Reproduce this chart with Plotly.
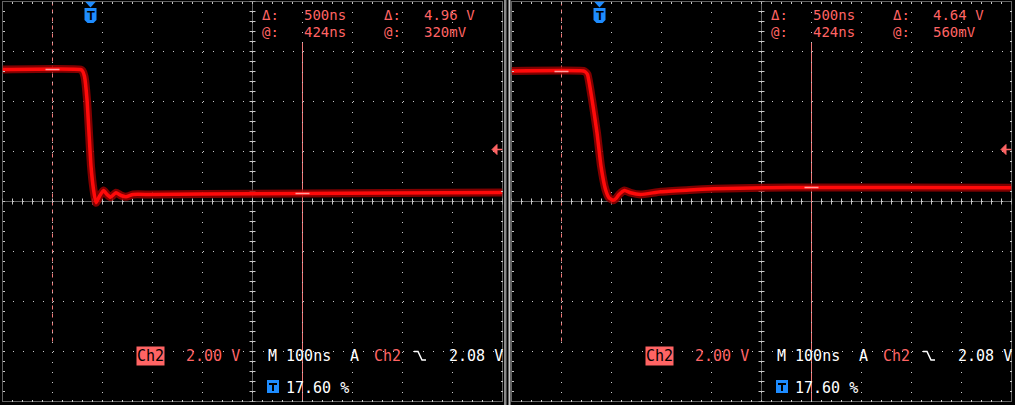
import numpy as np
import plotly.graph_objects as go

W, H = 1015, 405

# --- waveforms (time in ns from trigger, volts) ---
time_left = [-176, -20, -16, -12, -7, -3, 1, 6, 11, 18, 26, 33, 40, 51, 61, 71, 85, 120, 220, 424, 600, 824]
volts_left = [5.28, 5.28, 5.22, 5.00, 4.08, 2.75, 1.41, 0.48, -0.05, 0.21, 0.44, 0.28, 0.17, 0.35, 0.24, 0.19, 0.28, 0.28, 0.30, 0.32, 0.34, 0.36]

time_right = [-176, -32, -28, -24, -15, -5, 3, 12, 19, 27, 33, 39, 50, 62, 82, 122, 180, 229, 329, 429, 600, 824]
volts_right = [5.22, 5.22, 5.18, 5.08, 4.08, 2.75, 1.41, 0.48, 0.15, 0.05, 0.12, 0.28, 0.44, 0.35, 0.28, 0.39, 0.46, 0.51, 0.55, 0.56, 0.56, 0.55]

# cursors
cursor_times = [-76, 424]
cursor_volts_left = [5.28, 0.32]
cursor_volts_right = [5.20, 0.56]

readout_left = ["500ns", "424ns", "4.96 V", "320mV"]
readout_right = ["500ns", "424ns", "4.64 V", "560mV"]

# status line
ch_scale = "2.00 V"
timebase = "M 100ns"
trig_level = 2.08
trig_level_text = "2.08 V"
trig_pos_text = "17.60 %"

SALMON = "#ff6464"
GRID = "#c8c8c8"
BLUE = "#1e8cff"
FONT = "DejaVu Sans Mono"

T_RANGE = [-176, 824]
V_RANGE = [-8, 8]


def pp(x, y):
    return x / W, 1 - y / H


fig = go.Figure()
shapes = []
annotations = []

panels = [
    (2.5, time_left, volts_left, cursor_volts_left, readout_left),
    (511.5, time_right, volts_right, cursor_volts_right, readout_right),
]

for i, (x0, t, v, cv, ro) in enumerate(panels):
    xa = "x" if i == 0 else "x2"
    ya = "y" if i == 0 else "y2"
    xkey = "xaxis" if i == 0 else "xaxis2"
    ykey = "yaxis" if i == 0 else "yaxis2"

    # trace: dark fuzz then bright core
    fig.add_trace(go.Scatter(x=t, y=v, xaxis=xa, yaxis=ya, mode="lines",
                             line=dict(color="rgba(150,0,0,0.85)", width=8, shape="spline", smoothing=0.5),
                             hoverinfo="skip", showlegend=False))
    fig.add_trace(go.Scatter(x=t, y=v, xaxis=xa, yaxis=ya, mode="lines",
                             line=dict(color="#ff0a0a", width=3.5, shape="spline", smoothing=0.5),
                             hoverinfo="skip", showlegend=False))

    fig.update_layout(**{
        xkey: dict(domain=[x0 / W, (x0 + 500) / W], range=T_RANGE, anchor=ya,
                   tick0=-176, dtick=100, showgrid=True, gridcolor=GRID, gridwidth=1,
                   griddash="1px,9px", zeroline=False, showticklabels=False,
                   ticks="inside", ticklen=2, tickcolor=GRID, mirror="ticks",
                   showline=False, fixedrange=True,
                   minor=dict(tick0=-176, dtick=20, ticks="inside", ticklen=2,
                              tickcolor=GRID, showgrid=False)),
        ykey: dict(domain=[1 - 401.5 / H, 1 - 1.5 / H], range=V_RANGE, anchor=xa,
                   tick0=-8, dtick=2, showgrid=True, gridcolor=GRID, gridwidth=1,
                   griddash="1px,9px", zeroline=False, showticklabels=False,
                   ticks="inside", ticklen=2, tickcolor=GRID, mirror="ticks",
                   showline=False, fixedrange=True,
                   minor=dict(tick0=-8, dtick=0.4, ticks="inside", ticklen=2,
                              tickcolor=GRID, showgrid=False)),
    })

    # border
    shapes.append(dict(type="rect", xref=f"{xa} domain", yref=f"{ya} domain",
                       x0=0, x1=1, y0=0, y1=1, layer="below",
                       line=dict(color=GRID, width=1, dash="1px,1px")))
    # center axes with ticks
    tc = 324
    shapes.append(dict(type="line", xref=xa, yref=ya, x0=T_RANGE[0], x1=T_RANGE[1], y0=0, y1=0,
                       layer="below", line=dict(color=GRID, width=1, dash="1px,1px")))
    shapes.append(dict(type="line", xref=xa, yref=ya, x0=tc, x1=tc, y0=V_RANGE[0], y1=V_RANGE[1],
                       layer="below", line=dict(color=GRID, width=1, dash="1px,1px")))
    path = " ".join(f"M {tx},-0.12 L {tx},0.12" for tx in np.arange(-176, 825, 20))
    path += " " + " ".join(f"M {tc - 6},{vy:.2f} L {tc + 6},{vy:.2f}" for vy in np.arange(-8, 8.01, 0.4))
    shapes.append(dict(type="path", xref=xa, yref=ya, path=path, layer="below",
                       line=dict(color=GRID, width=1)))

    # cursors
    shapes.append(dict(type="line", xref=xa, yref=ya, x0=cursor_times[0], x1=cursor_times[0],
                       y0=8, y1=-5.66, layer="below",
                       line=dict(color="#f07878", width=1, dash="4px,4px")))
    shapes.append(dict(type="line", xref=xa, yref=ya, x0=cursor_times[1], x1=cursor_times[1],
                       y0=6.38, y1=-8, layer="below",
                       line=dict(color="#f07878", width=1)))
    for ct, cvv in zip(cursor_times, cv):
        shapes.append(dict(type="line", xref=xa, yref=ya, x0=ct - 14, x1=ct + 14, y0=cvv, y1=cvv,
                           line=dict(color="#ffa0a0", width=1.5)))

    # trigger level arrow on right edge
    shapes.append(dict(type="path", xref=xa, yref=ya, fillcolor=SALMON,
                       path=f"M 803,{trig_level} L 813,{trig_level + 0.2} L 813,{trig_level - 0.2} Z",
                       line=dict(color=SALMON, width=1)))
    shapes.append(dict(type="line", xref=xa, yref=ya, x0=813, x1=824, y0=trig_level, y1=trig_level,
                       line=dict(color=SALMON, width=1.5)))

    # trigger position marker at top
    shapes.append(dict(type="path", xref=xa, yref=ya, fillcolor=BLUE, line=dict(width=0),
                       path="M -11,8 L 11,8 L 0,7.76 Z"))
    shapes.append(dict(type="path", xref=xa, yref=ya, fillcolor=BLUE, line=dict(width=0),
                       path="M -12,7.74 L 12,7.74 L 12,7.26 L 6,7.14 L -6,7.14 L -12,7.26 Z"))
    annotations.append(dict(xref=xa, yref=ya, x=0, y=7.45, text="<b>T</b>", showarrow=False,
                            font=dict(family="Liberation Sans", size=13, color="black")))

    # cursor readouts
    def txt(rx, y, s, color=SALMON, size=15, **kw):
        px_, py_ = pp(x0 + rx, y)
        annotations.append(dict(xref="paper", yref="paper", x=px_, y=py_, text=s,
                                xanchor="left", yanchor="middle", showarrow=False,
                                borderpad=0,
                                font=dict(family=FONT, size=size, color=color), **kw))

    txt(258.5, 15, "Δ:", size=14)
    txt(300.5, 15, ro[0], size=14)
    txt(380.5, 15, "Δ:", size=14)
    txt(420.5, 15, ro[2], size=14)
    txt(258.5, 31.8, "@:", size=14)
    txt(300.5, 31.8, ro[1], size=14)
    txt(380.5, 31.8, "@:", size=14)
    txt(420.5, 31.8, ro[3], size=14)

    # status line
    txt(133, 355.5, "Ch2", color="black", bgcolor=SALMON)
    txt(182.5, 355.5, ch_scale)
    txt(264.5, 355.5, timebase, color="white")
    txt(346.5, 355.5, "A", color="white")
    txt(370.5, 355.5, "Ch2")
    txt(445.5, 355.5, trig_level_text, color="white")
    txt(282.5, 387.5, trig_pos_text, color="white")

    # falling edge symbol
    pts = [(411.5, 351.5), (415.5, 351.5), (419.5, 360), (423.5, 360)]
    p = " L ".join(f"{pp(x0 + a, b)[0]:.5f},{pp(x0 + a, b)[1]:.5f}" for a, b in pts)
    shapes.append(dict(type="path", xref="paper", yref="paper", path="M " + p,
                       line=dict(color="white", width=1.5)))

    # T badge in status line (blue box, black T drawn as a path)
    bx0, by0 = pp(x0 + 264.5, 380)
    bx1, by1 = pp(x0 + 276.5, 393)
    shapes.append(dict(type="rect", xref="paper", yref="paper", x0=bx0, x1=bx1, y0=by1, y1=by0,
                       fillcolor=BLUE, line=dict(width=0)))
    tpts = [(266.5, 383), (274.5, 383), (274.5, 385), (271.5, 385), (271.5, 391),
            (269.5, 391), (269.5, 385), (266.5, 385)]
    tp = " L ".join(f"{pp(x0 + a, b)[0]:.5f},{pp(x0 + a, b)[1]:.5f}" for a, b in tpts)
    shapes.append(dict(type="path", xref="paper", yref="paper", path="M " + tp + " Z",
                       fillcolor="black", line=dict(width=0)))

# separator between the two screens
for sx0, sx1, col in [(504, 506.5, "#8a8a8a"), (508.5, 510.5, "#c4c4c4")]:
    shapes.append(dict(type="rect", xref="paper", yref="paper", x0=sx0 / W, x1=sx1 / W,
                       y0=0, y1=1, fillcolor=col, line=dict(width=0)))

fig.update_layout(width=W, height=H, margin=dict(l=0, r=0, t=0, b=0),
                  paper_bgcolor="black", plot_bgcolor="black",
                  shapes=shapes, annotations=annotations, showlegend=False)

fig.write_html("out.html", config={"displayModeBar": False},
               post_script="document.body.style.margin='0';document.body.style.background='black';")
